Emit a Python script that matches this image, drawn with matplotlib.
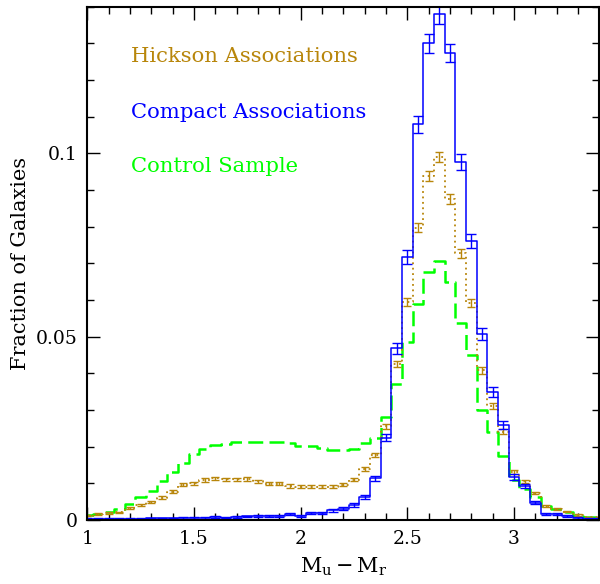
import numpy as np
import matplotlib
matplotlib.use('Agg')
import matplotlib.pyplot as plt
from matplotlib.ticker import MultipleLocator, FuncFormatter

plt.rcParams['font.family'] = ['DejaVu Serif']
plt.rcParams['mathtext.fontset'] = 'dejavuserif'

# bin centres of the colour histogram
bins = [1.00, 1.05, 1.10, 1.15, 1.20, 1.25, 1.30, 1.35, 1.40, 1.45,
        1.50, 1.55, 1.60, 1.65, 1.70, 1.75, 1.80, 1.85, 1.90, 1.95,
        2.00, 2.05, 2.10, 2.15, 2.20, 2.25, 2.30, 2.35, 2.40, 2.45,
        2.50, 2.55, 2.60, 2.65, 2.70, 2.75, 2.80, 2.85, 2.90, 2.95,
        3.00, 3.05, 3.10, 3.15, 3.20, 3.25, 3.30, 3.35, 3.40]

control = [0.0013, 0.0018, 0.0023, 0.0031, 0.0045, 0.0062, 0.0080, 0.0107, 0.0131, 0.0155,
           0.0181, 0.0195, 0.0204, 0.0208, 0.0213, 0.0213, 0.0213, 0.0213, 0.0212, 0.0209,
           0.0203, 0.0203, 0.0196, 0.0192, 0.0192, 0.0194, 0.0210, 0.0225, 0.0280, 0.0372,
           0.0487, 0.0590, 0.0677, 0.0707, 0.0650, 0.0537, 0.0450, 0.0300, 0.0239, 0.0175,
           0.0109, 0.0086, 0.0064, 0.0039, 0.0030, 0.0023, 0.0011, 0.0008, 0.0008]

hickson = [0.0012, 0.0017, 0.0020, 0.0021, 0.0033, 0.0040, 0.0049, 0.0061, 0.0077, 0.0096,
           0.0100, 0.0109, 0.0114, 0.0111, 0.0111, 0.0112, 0.0106, 0.0099, 0.0099, 0.0093,
           0.0091, 0.0091, 0.0091, 0.0091, 0.0096, 0.0110, 0.0139, 0.0177, 0.0256, 0.0426,
           0.0594, 0.0797, 0.0938, 0.0990, 0.0876, 0.0728, 0.0592, 0.0408, 0.0311, 0.0241,
           0.0132, 0.0106, 0.0074, 0.0039, 0.0030, 0.0023, 0.0014, 0.0008, 0.0008]

hickson_err = [0.00015, 0.00018, 0.0002, 0.0002, 0.00025, 0.00028, 0.00031, 0.00034, 0.00039, 0.00043,
               0.00044, 0.00046, 0.00047, 0.00046, 0.00046, 0.00047, 0.00045, 0.00044, 0.00044, 0.00042,
               0.00042, 0.00042, 0.00042, 0.00042, 0.00043, 0.00046, 0.00052, 0.00059, 0.0007, 0.00091,
               0.00107, 0.00124, 0.00135, 0.00138, 0.0013, 0.00119, 0.00107, 0.00089, 0.00078, 0.00068,
               0.00051, 0.00045, 0.00038, 0.00027, 0.00024, 0.00021, 0.00016, 0.00012, 0.00012]

compact = [0.0004, 0.0004, 0.0004, 0.0004, 0.0004, 0.0004, 0.0005, 0.0005, 0.0005, 0.0006,
           0.0006, 0.0006, 0.0009, 0.0007, 0.0008, 0.0010, 0.0011, 0.0012, 0.0011, 0.0016,
           0.0011, 0.0019, 0.0019, 0.0027, 0.0031, 0.0041, 0.0062, 0.0114, 0.0225, 0.0469,
           0.0718, 0.1079, 0.1300, 0.1380, 0.1273, 0.0976, 0.0762, 0.0508, 0.0350, 0.0259,
           0.0118, 0.0093, 0.0048, 0.0016, 0.0016, 0.0012, 0.0006, 0.0004, 0.0004]

compact_err = [0.00014, 0.00014, 0.00014, 0.00014, 0.00014, 0.00014, 0.00016, 0.00016, 0.00016, 0.00017,
               0.00017, 0.00017, 0.00021, 0.00019, 0.0002, 0.00022, 0.00023, 0.00024, 0.00023, 0.00028,
               0.00023, 0.0003, 0.0003, 0.00036, 0.00039, 0.00045, 0.00055, 0.00075, 0.00105, 0.0015,
               0.0019, 0.0023, 0.0025, 0.0026, 0.0025, 0.0022, 0.0019, 0.0016, 0.0013, 0.0011,
               0.00076, 0.00068, 0.00048, 0.00028, 0.00028, 0.00024, 0.00017, 0.00014, 0.00014]

labels = ['Hickson Associations', 'Compact Associations', 'Control Sample']

c_hick = '#B8860B'
c_comp = '#0000FF'
c_ctrl = '#00FF00'

fig = plt.figure(figsize=(6, 5.84), dpi=100)
ax = fig.add_axes([0.1457, 0.1094, 0.8532, 0.8791])

ax.step(bins, control, where='mid', color=c_ctrl, lw=1.8, linestyle=(0, (6, 2.5)))
ax.step(bins, hickson, where='mid', color=c_hick, lw=1.3, linestyle=(0, (1, 2)))
ax.errorbar(bins, hickson, yerr=hickson_err, fmt='none', ecolor=c_hick, elinewidth=1, capsize=3, capthick=1)
ax.step(bins, compact, where='mid', color=c_comp, lw=1.1)
ax.errorbar(bins, compact, yerr=compact_err, fmt='none', ecolor=c_comp, elinewidth=1, capsize=3.5, capthick=1)

ax.set_xlim(1, 3.4)
ax.set_ylim(0, 0.14)

ax.xaxis.set_major_locator(MultipleLocator(0.5))
ax.xaxis.set_minor_locator(MultipleLocator(0.1))
ax.yaxis.set_major_locator(MultipleLocator(0.05))
ax.yaxis.set_minor_locator(MultipleLocator(0.01))
ax.xaxis.set_major_formatter(FuncFormatter(lambda v, p: '%g' % v))
ax.yaxis.set_major_formatter(FuncFormatter(lambda v, p: '%g' % round(v, 3)))
ax.tick_params(which='both', direction='in', top=True, right=True, labelsize=13.5, pad=7)
ax.tick_params(which='major', length=9.5, width=1)
ax.tick_params(which='minor', length=5, width=1)
for s in ax.spines.values():
    s.set_linewidth(1.5)

ax.set_xlabel(r'$\mathrm{M_u - M_r}$', fontsize=15, labelpad=6)
ax.set_ylabel('Fraction of Galaxies', fontsize=15, labelpad=4)

ytxt = [0.1249, 0.1097, 0.0949]
for lab, col, yy in zip(labels, [c_hick, c_comp, c_ctrl], ytxt):
    ax.text(1.203, yy, lab, color=col, fontsize=15.2, va='baseline', ha='left')

fig.savefig('out.png', dpi=100)
